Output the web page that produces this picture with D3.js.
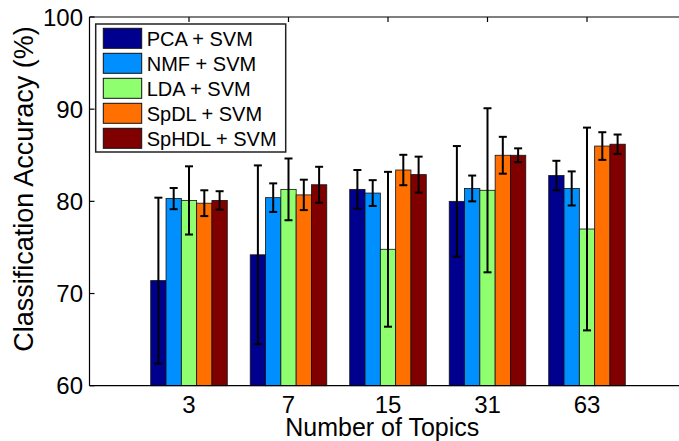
<!DOCTYPE html>
<html>
<head>
<meta charset="utf-8">
<script src="https://cdn.jsdelivr.net/npm/d3@7/dist/d3.min.js"></script>
<style>
  html, body { margin: 0; padding: 0; background: #fff; }
  svg { display: block; font-family: "Liberation Sans", Arial, Helvetica, sans-serif; }
</style>
</head>
<body>
<div id="chart"></div>
<script>
(function() {
  'use strict';

  var topics = ['3', '7', '15', '31', '63'];
  var methods = ['PCA + SVM', 'NMF + SVM', 'LDA + SVM', 'SpDL + SVM', 'SpHDL + SVM'];
  var colors = ['#00008f', '#008fff', '#8fff70', '#ff7000', '#800000'];

  // mean accuracy per method, one entry per topic count
  var pcaMean   = [71.4, 74.2, 81.3, 80.0, 82.8];
  var nmfMean   = [80.3, 80.4, 80.9, 81.4, 81.4];
  var ldaMean   = [80.1, 81.3, 74.8, 81.2, 77.0];
  var spdlMean  = [79.8, 80.7, 83.4, 85.0, 86.0];
  var sphdlMean = [80.1, 81.8, 82.9, 85.0, 86.2];

  // standard deviation (error bar half length)
  var pcaErr   = [9.0, 9.7, 2.1, 6.0, 1.6];
  var nmfErr   = [1.15, 1.55, 1.4, 1.4, 1.85];
  var ldaErr   = [3.7, 3.35, 8.4, 8.9, 11.0];
  var spdlErr  = [1.4, 1.65, 1.65, 2.0, 1.5];
  var sphdlErr = [1.0, 1.95, 1.95, 0.75, 1.05];

  var yTicks = [60, 70, 80, 90, 100];

  var means = [pcaMean, nmfMean, ldaMean, spdlMean, sphdlMean];
  var errs = [pcaErr, nmfErr, ldaErr, spdlErr, sphdlErr];

  var width = 679, height = 441;
  var left = 89.5, right = 686.5, top = 17, bottom = 385.7;

  var svg = d3.select('#chart').append('svg')
      .attr('width', width).attr('height', height);

  var x = d3.scaleLinear().domain([0, 6]).range([left, right]);
  var y = d3.scaleLinear().domain([60, 100]).range([bottom, top]);

  // matlab grouped bar: group width n/(n+1.5)
  var groupW = methods.length / (methods.length + 1.5);
  var barW = x(groupW / methods.length) - x(0);

  // flatten into one record per bar
  var bars = [];
  means.forEach(function(series, j) {
    series.forEach(function(v, i) {
      bars.push({ g: i, s: j, v: v, e: errs[j][i] });
    });
  });

  function barX(d) {
    return x(d.g + 1) + (d.s - (methods.length - 1) / 2) * barW - barW / 2;
  }

  var plot = svg.append('g');

  plot.selectAll('rect.bar')
      .data(bars)
      .enter()
      .append('rect')
      .attr('class', 'bar')
      .attr('x', barX)
      .attr('width', barW)
      .attr('y', function(d) { return y(d.v); })
      .attr('height', function(d) { return y(60) - y(d.v); })
      .attr('fill', function(d) { return colors[d.s]; })
      .attr('stroke', '#111')
      .attr('stroke-width', 0.8);

  // error bars
  var capW = 4;
  var eb = plot.selectAll('g.err')
      .data(bars)
      .enter()
      .append('g')
      .attr('class', 'err')
      .attr('stroke', '#000')
      .attr('stroke-width', 2);

  eb.append('line')
      .attr('x1', function(d) { return barX(d) + barW / 2; })
      .attr('x2', function(d) { return barX(d) + barW / 2; })
      .attr('y1', function(d) { return y(d.v + d.e); })
      .attr('y2', function(d) { return y(d.v - d.e); });

  [1, -1].forEach(function(sign) {
    eb.append('line')
        .attr('x1', function(d) { return barX(d) + barW / 2 - capW; })
        .attr('x2', function(d) { return barX(d) + barW / 2 + capW; })
        .attr('y1', function(d) { return y(d.v + sign * d.e); })
        .attr('y2', function(d) { return y(d.v + sign * d.e); });
  });

  // axes box
  var axisG = svg.append('g').attr('stroke', '#000').attr('stroke-width', 1.2);
  axisG.append('line').attr('x1', left).attr('x2', right).attr('y1', bottom).attr('y2', bottom);
  axisG.append('line').attr('x1', left).attr('x2', right).attr('y1', top).attr('y2', top);
  axisG.append('line').attr('x1', left).attr('x2', left).attr('y1', top).attr('y2', bottom);

  // inward ticks: left and top
  axisG.selectAll('line.yt')
      .data(yTicks)
      .enter()
      .append('line')
      .attr('x1', left).attr('x2', left + 5)
      .attr('y1', function(d) { return y(d); })
      .attr('y2', function(d) { return y(d); });

  axisG.selectAll('line.xt')
      .data(topics)
      .enter()
      .append('line')
      .attr('x1', function(d, i) { return x(i + 1); })
      .attr('x2', function(d, i) { return x(i + 1); })
      .attr('y1', top).attr('y2', top + 5);

  // tick labels
  svg.selectAll('text.yl')
      .data(yTicks)
      .enter()
      .append('text')
      .attr('x', 83)
      .attr('y', function(d) { return y(d); })
      .attr('dy', '0.36em')
      .attr('text-anchor', 'end')
      .attr('font-size', 24)
      .text(function(d) { return d; });

  svg.selectAll('text.xl')
      .data(topics)
      .enter()
      .append('text')
      .attr('x', function(d, i) { return x(i + 1); })
      .attr('y', 412.5)
      .attr('text-anchor', 'middle')
      .attr('font-size', 24)
      .text(function(d) { return d; });

  // axis titles
  svg.append('text')
      .attr('x', (left + 679) / 2 - 2)
      .attr('y', 436)
      .attr('text-anchor', 'middle')
      .attr('font-size', 25)
      .text('Number of Topics');

  svg.append('text')
      .attr('transform', 'translate(33,189) rotate(-90)')
      .attr('text-anchor', 'middle')
      .attr('font-size', 27)
      .text('Classification Accuracy (%)');

  // legend
  var legend = svg.append('g').attr('transform', 'translate(95.7,24)');
  legend.append('rect')
      .attr('width', 190).attr('height', 128)
      .attr('fill', '#fff')
      .attr('stroke', '#222')
      .attr('stroke-width', 1.5);

  var item = legend.selectAll('g.item')
      .data(methods)
      .enter()
      .append('g')
      .attr('transform', function(d, i) { return 'translate(0,' + (4.3 + i * 25) + ')'; });

  item.append('rect')
      .attr('x', 7.6).attr('width', 38.4).attr('height', 20)
      .attr('fill', function(d, i) { return colors[i]; })
      .attr('stroke', '#111')
      .attr('stroke-width', 1);

  item.append('text')
      .attr('x', 51)
      .attr('y', 10)
      .attr('dy', '0.36em')
      .attr('font-size', 20)
      .text(function(d) { return d; });
})();
</script>
</body>
</html>
